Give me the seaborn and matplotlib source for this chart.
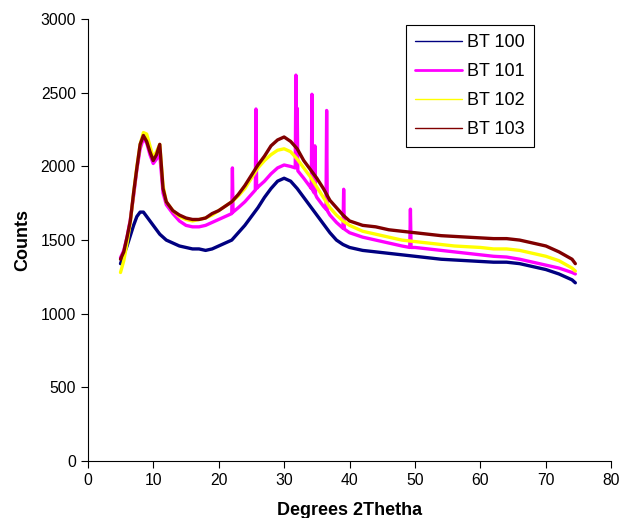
import pandas as pd
import seaborn as sns
import matplotlib.pyplot as plt

# Degrees 2Theta grid shared by BT 100, BT 102, BT 103
angle = [5, 5.5, 6, 6.5, 7, 7.5, 8, 8.5, 9, 9.5, 10, 10.5, 11, 11.5, 12, 13, 14, 15, 16, 17,
         18, 19, 20, 21, 22, 23, 24, 25, 26, 27, 28, 29, 30, 31, 32, 33, 34, 35, 36, 37,
         38, 39, 40, 42, 44, 46, 48, 50, 52, 54, 56, 58, 60, 62, 64, 66, 68, 70, 72, 74, 74.5]

bt100 = [1340, 1400, 1460, 1530, 1600, 1660, 1690, 1690, 1660, 1630, 1600, 1570, 1540, 1520, 1500, 1480,
         1460, 1450, 1440, 1440, 1430, 1440, 1460, 1480, 1500, 1550, 1600, 1660, 1720, 1790, 1850, 1900,
         1920, 1900, 1850, 1790, 1730, 1670, 1610, 1550, 1500, 1470, 1450, 1430, 1420, 1410, 1400, 1390,
         1380, 1370, 1365, 1360, 1355, 1350, 1350, 1340, 1320, 1300, 1270, 1230, 1210]

bt102 = [1280, 1360, 1480, 1620, 1820, 2000, 2150, 2230, 2220, 2140, 2060, 2100, 2150, 1870, 1760, 1700,
         1660, 1640, 1630, 1640, 1650, 1670, 1700, 1730, 1760, 1800, 1850, 1920, 1990, 2040, 2080, 2110,
         2120, 2100, 2050, 1990, 1930, 1860, 1790, 1720, 1670, 1630, 1600, 1560, 1540, 1520, 1500, 1490,
         1480, 1470, 1460, 1455, 1450, 1440, 1440, 1430, 1410, 1390, 1360, 1310, 1290]

bt103 = [1370, 1420, 1520, 1630, 1820, 1990, 2150, 2210, 2170, 2100, 2040, 2080, 2150, 1850, 1760, 1700,
         1670, 1650, 1640, 1640, 1650, 1680, 1700, 1730, 1760, 1810, 1870, 1940, 2010, 2070, 2140, 2180,
         2200, 2170, 2120, 2040, 1980, 1920, 1850, 1770, 1720, 1670, 1630, 1600, 1590, 1570, 1560, 1550,
         1540, 1530, 1525, 1520, 1515, 1510, 1510, 1500, 1480, 1460, 1420, 1370, 1340]

# BT 101 has its own grid because of the sharp reflections
angle_101 = [5, 5.5, 6, 6.5, 7, 7.5, 8, 8.5, 9, 9.5, 10, 10.5, 11, 11.5, 12, 13, 14, 15, 16, 17,
             18, 19, 20, 21, 22, 22.1, 22.2, 23, 24, 25, 25.6, 25.7, 25.8, 26, 27, 28, 29, 30, 31,
             31.7, 31.8, 31.9, 32.0, 32.1, 33, 34, 34.15, 34.25, 34.35, 34.6, 34.7, 34.8, 35, 36,
             36.4, 36.5, 36.6, 37, 38, 39, 39.1, 39.2, 40, 42, 44, 46, 48, 49.2, 49.3, 49.4, 50,
             52, 54, 56, 58, 60, 62, 64, 66, 68, 70, 72, 74, 74.5]

bt101 = [1380, 1430, 1520, 1640, 1800, 1980, 2120, 2190, 2160, 2080, 2020, 2050, 2080, 1820, 1740, 1680,
         1630, 1600, 1590, 1590, 1600, 1620, 1640, 1660, 1680, 1990, 1690, 1720, 1760, 1810, 1840, 2390,
         1850, 1860, 1900, 1950, 1990, 2010, 2000, 1990, 2620, 2000, 2395, 1970, 1920, 1860, 1850, 2490,
         1840, 1820, 2140, 1810, 1790, 1730, 1710, 2380, 1700, 1670, 1620, 1580, 1845, 1575, 1550, 1520,
         1500, 1480, 1460, 1450, 1710, 1450, 1450, 1440, 1430, 1420, 1410, 1400, 1390, 1385, 1370, 1350,
         1330, 1310, 1280, 1270]

series = ["BT 100", "BT 101", "BT 102", "BT 103"]
colors = {"BT 100": "#000080", "BT 101": "#FF00FF", "BT 102": "#FFFF00", "BT 103": "#800000"}

df = pd.concat([
    pd.DataFrame({"Angle": angle, "Counts": bt100, "Sample": "BT 100"}),
    pd.DataFrame({"Angle": angle_101, "Counts": bt101, "Sample": "BT 101"}),
    pd.DataFrame({"Angle": angle, "Counts": bt102, "Sample": "BT 102"}),
    pd.DataFrame({"Angle": angle, "Counts": bt103, "Sample": "BT 103"}),
], ignore_index=True)

sns.set_style("white")
plt.rcParams["font.family"] = ["Liberation Sans", "DejaVu Sans"]

fig = plt.figure(figsize=(6.27, 5.18), dpi=100)
ax = fig.add_axes([0.140, 0.110, 0.835, 0.853])

sns.lineplot(data=df, x="Angle", y="Counts", hue="Sample", hue_order=series, palette=colors,
             estimator=None, sort=True, linewidth=2.4, ax=ax)

ax.set_xlim(0, 80)
ax.set_ylim(0, 3000)
ax.set_xticks(range(0, 81, 10))
ax.set_yticks(range(0, 3001, 500))
ax.tick_params(direction="out", length=5, width=0.8, color="black", labelsize=11.3,
               labelcolor="black", left=True, bottom=True)
for side in ["top", "right"]:
    ax.spines[side].set_visible(False)
for side in ["left", "bottom"]:
    ax.spines[side].set_color("black")
    ax.spines[side].set_linewidth(0.8)

ax.set_xlabel("Degrees 2Thetha", fontsize=13, fontweight="bold", labelpad=10, color="black")
ax.set_ylabel("Counts", fontsize=13, fontweight="bold", labelpad=7, color="black")

leg = ax.legend(loc="upper left", bbox_to_anchor=(0.608, 0.986), borderaxespad=0, fontsize=13,
                frameon=True, fancybox=False, framealpha=1, edgecolor="black", handlelength=2.6,
                labelspacing=0.66, borderpad=0.5, handletextpad=0.3)
leg.get_frame().set_linewidth(0.8)
for text in leg.get_texts():
    text.set_color("black")
for line, name in zip(leg.get_lines(), series):
    line.set_linewidth(2 if name == "BT 101" else 1)

plt.savefig("out.png", dpi=100)
